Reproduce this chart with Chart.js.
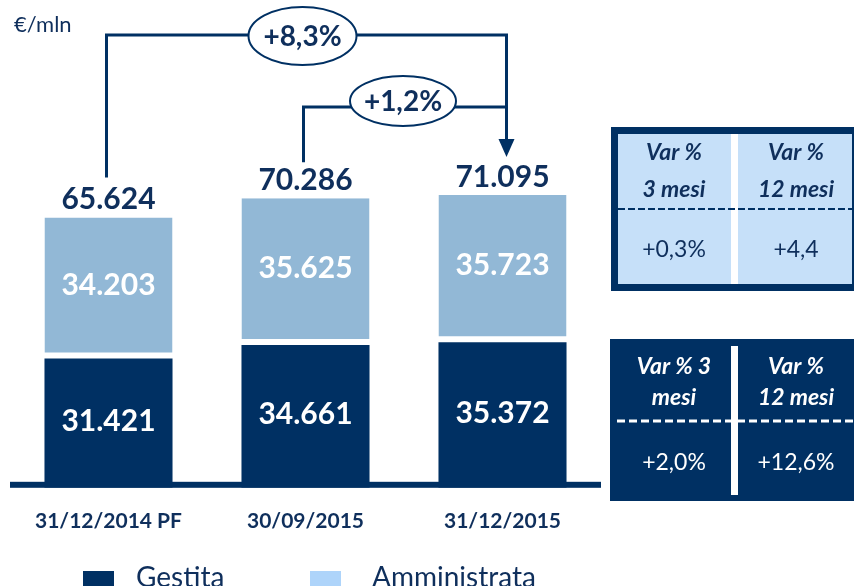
<!DOCTYPE html>
<html>
<head>
<meta charset="utf-8">
<script src="https://cdn.jsdelivr.net/npm/chart.js@4.4.1/dist/chart.umd.min.js"></script>
<style>
    html, body { margin: 0; padding: 0; background: #fff; }
    #contenitore { position: relative; width: 854px; height: 586px; }
</style>
</head>
<body>
<div id="contenitore"><canvas id="graficoMasse"></canvas></div>
<script>
const date = ["31/12/2014 PF", "30/09/2015", "31/12/2015"];
const gestita = [31421, 34661, 35372];
const amministrata = [34203, 35625, 35723];
const totali = [65624, 70286, 71095];
const crescite = ["+8,3%", "+1,2%"];
const intestazioniAmm = [["Var %", "3 mesi"], ["Var %", "12 mesi"]];
const variazioniAmm = ["+0,3%", "+4,4"];
const intestazioniGest = [["Var % 3", "mesi"], ["Var %", "12 mesi"]];
const variazioniGest = ["+2,0%", "+12,6%"];

const BLU = "#003063";
const TESTO = "#0f2f5c";
const AZZURRO = "#92b8d6";
const AZZURRO_LEGENDA = "#aed4fa";
const AZZURRO_TABELLA = "#c6e0f9";
const FONT = "Lato, 'Open Sans', sans-serif";

function formatta(v) {
    return String(v).replace(/\B(?=(\d{3})+(?!\d))/g, ".");
}

function ellisse(ctx, x, y, rx, ry, testo) {
    ctx.beginPath();
    ctx.ellipse(x, y, rx, ry, 0, 0, Math.PI * 2);
    ctx.fillStyle = "#fff";
    ctx.fill();
    ctx.lineWidth = 2;
    ctx.strokeStyle = BLU;
    ctx.stroke();
    ctx.fillStyle = TESTO;
    ctx.font = "bold 28px " + FONT;
    ctx.fillText(testo, x, y + 1);
}

function tabella(ctx, scura, intestazioni, valori, yIntest, yValori) {
    const colore = scura ? "#fff" : TESTO;
    const colonne = [674, 796];
    ctx.fillStyle = colore;
    colonne.forEach((cx, i) => {
        ctx.font = "italic bold 23px " + FONT;
        intestazioni[i].forEach((riga, k) => ctx.fillText(riga, cx, yIntest[k]));
        ctx.font = "23px " + FONT;
        ctx.fillText(valori[i], cx, yValori);
    });
}

const annotazioni = {
    id: "annotazioni",
    afterDatasetsDraw(chart) {
        const ctx = chart.ctx;
        const area = chart.chartArea;
        const barreG = chart.getDatasetMeta(0).data;
        const barreA = chart.getDatasetMeta(1).data;
        ctx.save();

        // linea di base
        ctx.fillStyle = BLU;
        ctx.fillRect(area.left, area.bottom - 6, area.right - area.left, 6);

        ctx.textAlign = "center";
        ctx.textBaseline = "middle";
        ctx.font = "bold 30px " + FONT;
        ctx.fillStyle = "#fff";
        barreG.forEach((b, j) => ctx.fillText(formatta(gestita[j]), b.x, (b.y + b.base) / 2 - 2));
        barreA.forEach((b, j) => ctx.fillText(formatta(amministrata[j]), b.x, (b.y + b.base - 6) / 2));

        ctx.fillStyle = TESTO;
        barreA.forEach((b, j) => ctx.fillText(formatta(totali[j]), b.x, b.y - 18));

        // frecce di crescita
        const xs = barreA.map(b => b.x);
        const cime = barreA.map(b => b.y);
        const xFreccia = xs[2] + 4;
        const yAlto = 35, yBasso = 107;
        ctx.strokeStyle = BLU;
        ctx.lineWidth = 3;
        ctx.lineJoin = "miter";
        ctx.beginPath();
        ctx.moveTo(xs[0] - 2, cime[0] - 40);
        ctx.lineTo(xs[0] - 2, yAlto);
        ctx.lineTo(xFreccia, yAlto);
        ctx.lineTo(xFreccia, cime[2] - 54);
        ctx.moveTo(xs[1] - 2, cime[1] - 36);
        ctx.lineTo(xs[1] - 2, yBasso);
        ctx.lineTo(xFreccia, yBasso);
        ctx.stroke();
        ctx.beginPath();
        ctx.moveTo(xFreccia - 8, cime[2] - 56);
        ctx.lineTo(xFreccia + 8, cime[2] - 56);
        ctx.lineTo(xFreccia, cime[2] - 38);
        ctx.closePath();
        ctx.fillStyle = BLU;
        ctx.fill();

        ellisse(ctx, xs[1] - 3, 36, 54, 29, crescite[0]);
        ellisse(ctx, (xs[1] + xs[2]) / 2 - 1, 101, 53, 25, crescite[1]);

        // unità di misura
        ctx.textAlign = "left";
        ctx.fillStyle = TESTO;
        ctx.font = "22px " + FONT;
        ctx.fillText("€/mln", 14, 25);

        // tabella amministrata
        ctx.fillStyle = BLU;
        ctx.fillRect(611, 127, 243, 164);
        ctx.fillStyle = AZZURRO_TABELLA;
        ctx.fillRect(618, 134, 234, 150);
        ctx.fillStyle = "#fff";
        ctx.fillRect(731, 134, 7, 150);
        ctx.setLineDash([7, 3]);
        ctx.lineWidth = 2;
        ctx.beginPath();
        ctx.moveTo(618, 209);
        ctx.lineTo(852, 209);
        ctx.stroke();
        ctx.textAlign = "center";
        tabella(ctx, false, intestazioniAmm, variazioniAmm, [153, 190], 250);

        // tabella gestita
        ctx.setLineDash([]);
        ctx.fillStyle = BLU;
        ctx.fillRect(610, 339, 244, 162);
        ctx.fillStyle = "#fff";
        ctx.fillRect(731, 346, 7, 149);
        ctx.setLineDash([8, 4]);
        ctx.lineWidth = 3;
        ctx.strokeStyle = "#fff";
        ctx.beginPath();
        ctx.moveTo(617, 421);
        ctx.lineTo(854, 421);
        ctx.stroke();
        ctx.setLineDash([]);
        tabella(ctx, true, intestazioniGest, variazioniGest, [367, 398], 463);

        // legenda
        const coloriLegenda = [BLU, AZZURRO_LEGENDA];
        const xBox = [83, 310];
        const xTesto = [136, 372];
        ctx.textAlign = "left";
        ctx.textBaseline = "alphabetic";
        ctx.font = "28px " + FONT;
        chart.data.datasets.forEach((ds, i) => {
            ctx.fillStyle = coloriLegenda[i];
            ctx.fillRect(xBox[i], 571, 31, 18);
            ctx.fillStyle = TESTO;
            ctx.fillText(ds.label, xTesto[i], 587);
        });
        ctx.restore();
    }
};

new Chart(document.getElementById("graficoMasse"), {
    type: "bar",
    data: {
        labels: date,
        datasets: [{
            label: "Gestita",
            data: gestita,
            backgroundColor: BLU,
            borderWidth: 0
        }, {
            label: "Amministrata",
            data: amministrata,
            backgroundColor: AZZURRO,
            borderColor: "#fff",
            borderWidth: { top: 0, left: 0, right: 0, bottom: 6 },
            borderSkipped: false
        }]
    },
    options: {
        responsive: true,
        maintainAspectRatio: false,
        animation: false,
        layout: { padding: { left: 10, right: 253, top: 76, bottom: 31 } },
        datasets: { bar: { categoryPercentage: 1, barPercentage: 0.65 } },
        scales: {
            x: {
                stacked: true,
                grid: { display: false, drawTicks: false },
                border: { display: false },
                ticks: { color: TESTO, font: { family: FONT, size: 21, weight: "bold" }, padding: 21 }
            },
            y: { stacked: true, display: false, min: 0, max: 100000 }
        },
        plugins: {
            legend: { display: false },
            tooltip: { enabled: false }
        }
    },
    plugins: [annotazioni]
});
</script>
</body>
</html>
